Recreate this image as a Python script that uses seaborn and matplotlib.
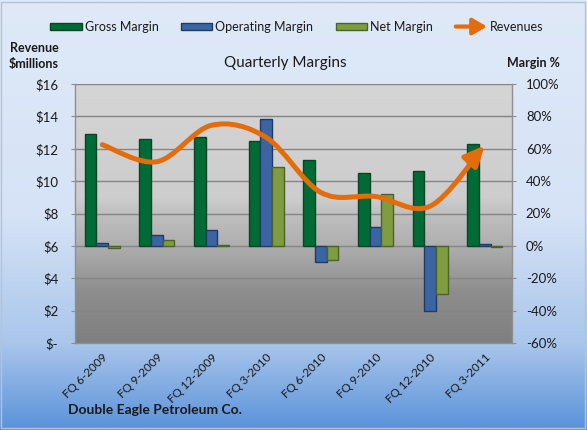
import numpy as np
import pandas as pd
import matplotlib
matplotlib.use("Agg")
import matplotlib.pyplot as plt
import seaborn as sns
from matplotlib.path import Path
from matplotlib.patches import FancyArrowPatch, Rectangle, Patch
from matplotlib.legend_handler import HandlerBase
from matplotlib.colors import LinearSegmentedColormap

# ---------------- data ----------------
quarters = ["FQ 6-2009", "FQ 9-2009", "FQ 12-2009", "FQ 3-2010",
            "FQ 6-2010", "FQ 9-2010", "FQ 12-2010", "FQ 3-2011"]
gross_margin = [69, 66, 67.5, 65, 53, 45, 46.5, 63]
operating_margin = [1.5, 7, 9.5, 78.5, -10, 11.5, -40.5, 1]
net_margin = [-1.5, 3.5, 0.3, 48.5, -9, 32, -29.5, -1]
revenues = [12.25, 11.2, 13.45, 12.7, 9.3, 9.05, 8.45, 12.2]

rev_ticks = [0, 2, 4, 6, 8, 10, 12, 14, 16]
rev_labels = ["$-", "$2", "$4", "$6", "$8", "$10", "$12", "$14", "$16"]
pct_ticks = [-60, -40, -20, 0, 20, 40, 60, 80, 100]
pct_labels = ["-60%", "-40%", "-20%", "0%", "20%", "40%", "60%", "80%", "100%"]

series_names = ["Gross Margin", "Operating Margin", "Net Margin"]
colors = ["#006b35", "#3a65a2", "#7f9c40"]
edges = ["#0b4424", "#1f3b63", "#4d6226"]
orange = "#e46c0a"

df = pd.DataFrame({
    "quarter": quarters * 3,
    "metric": [series_names[0]] * 8 + [series_names[1]] * 8 + [series_names[2]] * 8,
    "value": gross_margin + operating_margin + net_margin,
})

# ---------------- style ----------------
sns.set_style("white")
plt.rcParams["font.family"] = ["Lato", "DejaVu Sans"]
txt = "#1a1a1a"

fig = plt.figure(figsize=(5.87, 4.30), dpi=100)

# figure background gradient
bg = fig.add_axes([0, 0, 1, 1], zorder=-10)
bg.axis("off")
cm_bg = LinearSegmentedColormap.from_list(
    "bg", [(0, "#dfe9f8"), (0.5, "#d6e3f6"), (0.8, "#a9c6eb"), (1.0, "#5a92da")])
grad = np.linspace(0, 1, 256).reshape(-1, 1)
bg.imshow(grad, cmap=cm_bg, aspect="auto", extent=[0, 1, 0, 1], origin="upper")
bg.set_xlim(0, 1); bg.set_ylim(0, 1)
bg.add_patch(Rectangle((0.002, 0.004), 0.995, 0.992, fill=False,
                       edgecolor="#b4c4d8", lw=1.0))

L, R, B, T = 75 / 587, 512 / 587, (430 - 343) / 430, (430 - 84) / 430
ax = fig.add_axes([L, B, R - L, T - B])

# plot-area gradient
cm_pa = LinearSegmentedColormap.from_list(
    "pa", [(0, "#d5d5d5"), (0.44, "#cdcdcd"), (0.5, "#c0c0c0"),
           (0.62, "#afafaf"), (0.8, "#8e8e8e"), (1.0, "#7f7f7f")])
ax.imshow(grad, cmap=cm_pa, aspect="auto", extent=[0, 1, 0, 1],
          origin="upper", transform=ax.transAxes, zorder=0)

sns.barplot(data=df, x="quarter", y="value", hue="metric", order=quarters,
            hue_order=series_names, palette=colors, width=0.64, ax=ax,
            legend=False, saturation=1, zorder=3)
for i, cont in enumerate(ax.containers):
    for p in cont:
        p.set_edgecolor(edges[i])
        p.set_linewidth(1.0)

ax.set_xlim(-0.5, len(quarters) - 0.5)
ax.set_ylim(-60, 100)
ax.set_yticks(pct_ticks)
ax.set_yticklabels(pct_labels)
ax.grid(axis="y", color="#858585", lw=1.0, zorder=1)
ax.set_axisbelow(True)
ax.set_xlabel("")
ax.set_ylabel("")
ax.set_xticks(range(len(quarters)))
ax.set_xticklabels(quarters, rotation=45, ha="right", rotation_mode="anchor",
                   fontsize=8.5, color=txt)
ax.tick_params(axis="x", length=0, pad=6)
for s in ax.spines.values():
    s.set_visible(False)

# revenue axis (left)
ax2 = ax.twinx()
ax2.patch.set_visible(False)
ax2.set_ylim(0, 16)
ax2.set_yticks(rev_ticks)
ax2.set_yticklabels(rev_labels)
ax2.yaxis.tick_left()
ax2.tick_params(axis="y", left=True, right=False, labelleft=True,
                labelright=False, length=3, color="#8c8c8c",
                labelsize=9.5, labelcolor=txt, pad=9)
# margin axis labels on the right (after twinx, which resets sides)
ax.yaxis.tick_right()
ax.tick_params(axis="y", which="both", right=True, left=False,
               labelright=True, labelleft=False, length=3,
               color="#8c8c8c", labelsize=9.5, labelcolor=txt, pad=7,
               direction="out")
for side, s in ax2.spines.items():
    s.set_color("#8f8f8f")
    s.set_linewidth(1.0)
ax2.spines["top"].set_visible(False)

# smooth revenue line (Catmull-Rom style bezier through the data points)
xs = np.arange(len(revenues), dtype=float)
pts = np.column_stack([xs, np.array(revenues, dtype=float)])
verts = [pts[0]]
codes = [Path.MOVETO]
for i in range(len(pts) - 1):
    p0 = pts[i - 1] if i > 0 else pts[i]
    p1, p2 = pts[i], pts[i + 1]
    p3 = pts[i + 2] if i + 2 < len(pts) else pts[i + 1]
    verts += [p1 + (p2 - p0) / 6, p2 - (p3 - p1) / 6, p2]
    codes += [Path.CURVE4] * 3
arrow = FancyArrowPatch(path=Path(verts, codes),
                        arrowstyle="-|>,head_length=0.6,head_width=0.28",
                        mutation_scale=20, color=orange, lw=3.6,
                        joinstyle="round", capstyle="round",
                        transform=ax2.transData, zorder=5)
ax2.add_patch(arrow)


class ArrowHandler(HandlerBase):
    def create_artists(self, legend, orig_handle, xdescent, ydescent, width,
                       height, fontsize, trans):
        y = height / 2 - ydescent
        a = FancyArrowPatch((-xdescent, y), (width - xdescent, y),
                            arrowstyle="-|>,head_length=0.6,head_width=0.35",
                            mutation_scale=14, color=orange, lw=3,
                            shrinkA=0, shrinkB=0, transform=trans)
        return [a]


handles = [Patch(facecolor=c, edgecolor=e, lw=1) for c, e in zip(colors, edges)]
arrow_handle = Patch(color=orange)
handles.append(arrow_handle)
labels = series_names + ["Revenues"]
fig.legend(handles=handles, labels=labels, loc="center",
           bbox_to_anchor=(297 / 587, 1 - 27 / 430), ncol=4, frameon=False,
           fontsize=9, handlelength=2.5, handleheight=0.5, handletextpad=0.25,
           columnspacing=1.8, labelcolor=txt,
           handler_map={arrow_handle: ArrowHandler()})

fig.text(285 / 587, 1 - 63 / 430, "Quarterly Margins", ha="center",
         va="center", fontsize=11, color=txt)
fig.text(34 / 587, 1 - 56 / 430, "Revenue\n$millions", ha="center",
         va="center", fontsize=9, fontweight="bold", color=txt,
         linespacing=1.4)
fig.text(533 / 587, 1 - 63 / 430, "Margin %", ha="center", va="center",
         fontsize=9, fontweight="bold", color=txt)
fig.text(68 / 587, 1 - 410 / 430, "Double Eagle Petroleum Co.", ha="left",
         va="center", fontsize=10, fontweight="bold", color=txt)

fig.savefig("out.png", dpi=100)
